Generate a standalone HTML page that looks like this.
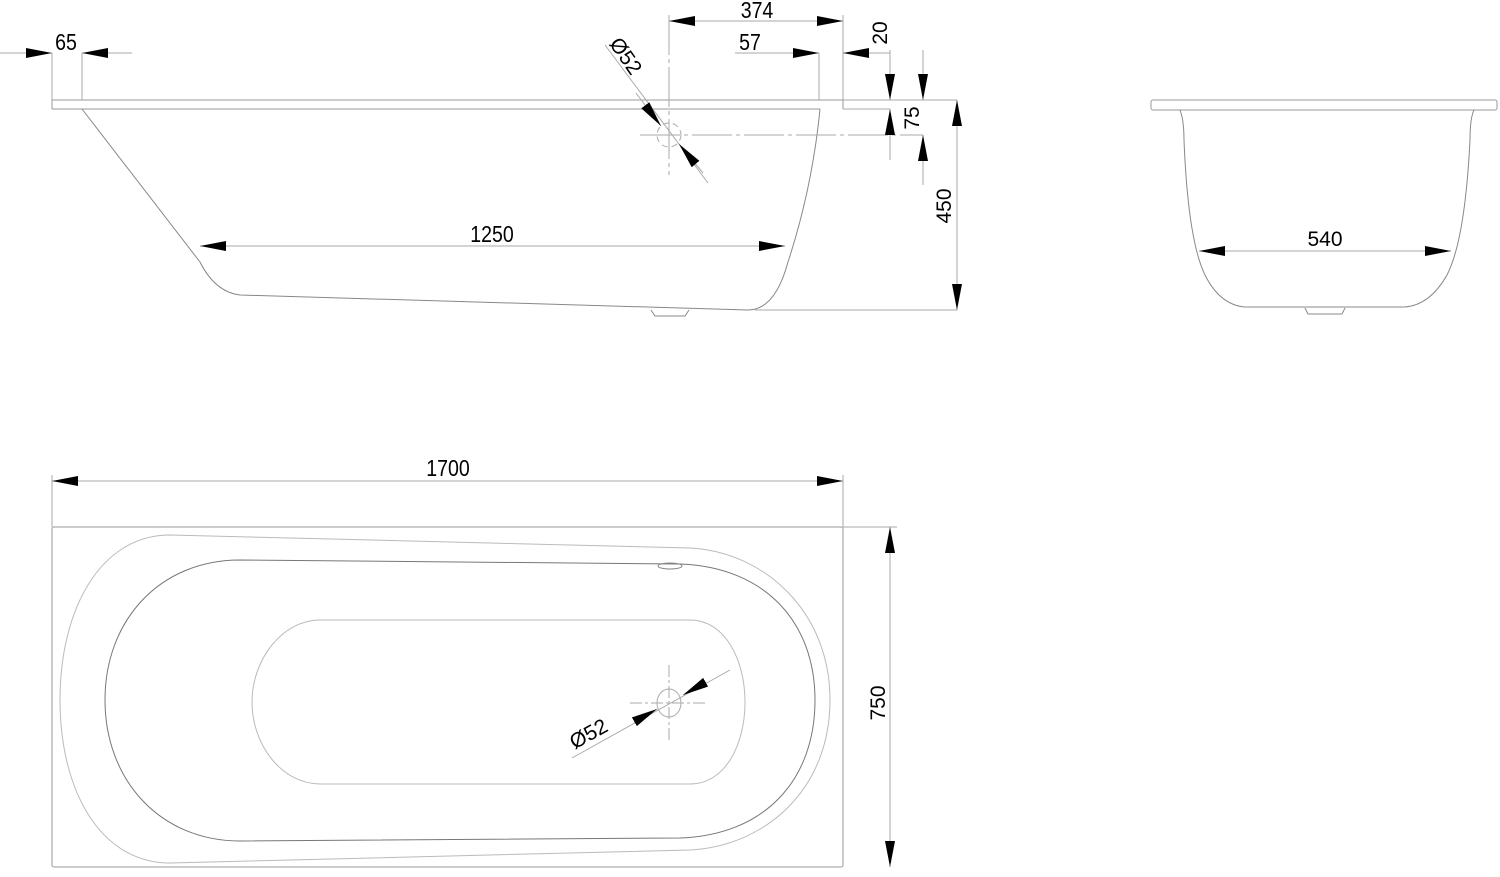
<!DOCTYPE html>
<html><head><meta charset="utf-8"><style>html,body{margin:0;padding:0;background:#fff}svg{display:block}</style></head>
<body>
<svg width="1500" height="877" viewBox="0 0 1500 877" xmlns="http://www.w3.org/2000/svg" font-family="Liberation Sans, sans-serif" font-size="21" fill="none">
<defs>
<marker id="a" markerUnits="userSpaceOnUse" markerWidth="26" markerHeight="10" refX="26" refY="5" orient="auto-start-reverse"><path d="M0,0 L26,5 L0,10 z" fill="#000"/></marker>
</defs>
<g stroke="#aaa" stroke-width="1">
<path d="M52 100 H843 M52 109 H820 M52 100 V109 M843 100 V109" stroke="#999"/>
<path d="M843 100 H957 M843 109 H890" />
<path d="M82 109 L200 262 Q215 292 240 295 L748 310 Q775 310 788 262 C805 210 815 160 820 109" stroke="#888"/>
<path d="M651 310 L655 316 H685 L689 310" stroke="#888"/>
<path d="M52 53 V100 M82 53 V100 M843 15 V100 M819 53 V100"/>
<path d="M669 15 V175" stroke-dasharray="40 4 4 4"/>
<path d="M640 135 H923" stroke-dasharray="40 4 4 4"/>
<circle cx="669" cy="135" r="12" stroke-dasharray="6 4"/>
<path d="M755 310 H957"/>
<line x1="0" y1="53" x2="52" y2="53" marker-end="url(#a)"/>
<line x1="132" y1="53" x2="82" y2="53" marker-end="url(#a)"/>
<line x1="669" y1="21" x2="843" y2="21" marker-start="url(#a)" marker-end="url(#a)"/>
<line x1="735" y1="53" x2="819" y2="53" marker-end="url(#a)"/>
<line x1="890" y1="53" x2="843" y2="53" marker-end="url(#a)"/>
<line x1="890" y1="50" x2="890" y2="100" marker-end="url(#a)"/>
<line x1="890" y1="160" x2="890" y2="109" marker-end="url(#a)"/>
<line x1="923" y1="50" x2="923" y2="100" marker-end="url(#a)"/>
<line x1="923" y1="185" x2="923" y2="135" marker-end="url(#a)"/>
<line x1="957" y1="100" x2="957" y2="310" marker-start="url(#a)" marker-end="url(#a)"/>
<line x1="605" y1="45" x2="708" y2="183"/>
<line x1="636" y1="93" x2="661" y2="126" marker-end="url(#a)"/>
<line x1="703" y1="173" x2="679" y2="144" marker-end="url(#a)"/>
<line x1="200" y1="246" x2="785" y2="246" marker-start="url(#a)" marker-end="url(#a)"/>

<rect x="1151" y="100" width="346" height="10" rx="2" stroke="#999"/>
<path d="M1180 110 Q1184 120 1184 140 Q1188 240 1205 275 Q1220 305 1245 307 L1405 307 Q1430 305 1447 275 Q1465 240 1470 140 Q1470 118 1474 110" stroke="#888"/>
<path d="M1305 308 L1308 314 H1342 L1345 308" stroke="#888"/>
<line x1="1199" y1="251" x2="1451" y2="251" marker-start="url(#a)" marker-end="url(#a)"/>

<path d="M52 475 V527 M843 475 V527 M843 527 H897"/>
<line x1="52" y1="481" x2="843" y2="481" marker-start="url(#a)" marker-end="url(#a)"/>
<rect x="52" y="527" width="791" height="340" rx="2" stroke="#999"/>
<line x1="890" y1="527" x2="890" y2="867" marker-start="url(#a)" marker-end="url(#a)"/>
<path d="M170 535 L690 548 C765 552 830 612 830 700 C830 790 765 846 690 850 L170 863 C100 863 60 790 60 700 C60 610 100 535 170 535" stroke="#bbb"/>
<path d="M240 560 L680 564 C765 567 815 622 815 700 C815 780 765 835 680 838 L240 841 C160 841 105 780 105 700 C105 620 160 560 240 560" stroke="#777"/>
<path d="M320 620 L690 620 C725 620 745 660 745 702 C745 745 725 784 690 784 L320 784 C282 784 252 745 252 702 C252 660 282 620 320 620" stroke="#bbb"/>
<ellipse cx="670" cy="566" rx="12" ry="3" stroke="#888"/>
<ellipse cx="669" cy="703" rx="12" ry="14"/>
<path d="M630 703 H708 M669 665 V742" stroke-dasharray="12 3 3 3"/>
<line x1="572" y1="758" x2="730" y2="670"/>
<line x1="634" y1="722" x2="657" y2="709" marker-end="url(#a)"/>
<line x1="706" y1="682" x2="683" y2="695" marker-end="url(#a)"/>
</g>
<g fill="#000" stroke="none">
<text transform="translate(66,50) scale(0.85,1)" font-size="23" text-anchor="middle">65</text>
<text transform="translate(757,18) scale(0.85,1)" font-size="23" text-anchor="middle">374</text>
<text transform="translate(750,50) scale(0.85,1)" font-size="23" text-anchor="middle">57</text>
<text transform="translate(887,33) rotate(-90)" text-anchor="middle">20</text>
<text transform="translate(919,118) rotate(-90)" text-anchor="middle">75</text>
<text transform="translate(951,206) rotate(-90)" text-anchor="middle">450</text>
<text transform="translate(620,60) rotate(55)" text-anchor="middle">Ø52</text>
<text transform="translate(492,242) scale(0.85,1)" font-size="23" text-anchor="middle">1250</text>
<text x="1325" y="246" text-anchor="middle">540</text>
<text transform="translate(448,476) scale(0.85,1)" font-size="23" text-anchor="middle">1700</text>
<text transform="translate(885,703) rotate(-90)" text-anchor="middle">750</text>
<text transform="translate(592,740) rotate(-29)" text-anchor="middle">Ø52</text>
</g>
</svg>
</body></html>
